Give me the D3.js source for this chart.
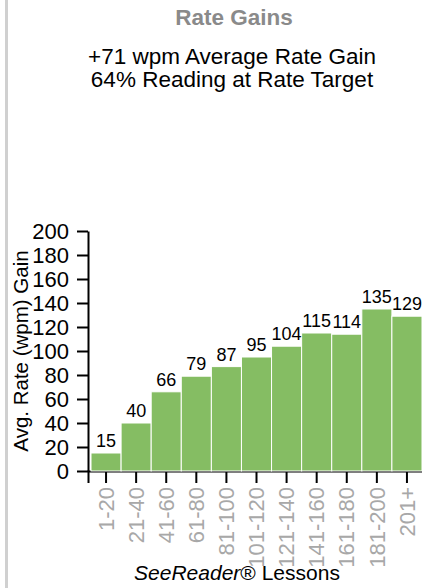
<!DOCTYPE html>
<html>
<head>
<meta charset="utf-8">
<script src="https://cdn.jsdelivr.net/npm/d3@7"></script>
<style>
	body { margin: 0; background: #fff; font-family: "Liberation Sans", Arial, sans-serif; }
	.axis path, .axis line { stroke: #000; stroke-width: 2; }
</style>
</head>
<body>
<script>
// 表示データ
var lessons = ["1-20", "21-40", "41-60", "61-80", "81-100", "101-120", "121-140", "141-160", "161-180", "181-200", "201+"];
var gains   = [15, 40, 66, 79, 87, 95, 104, 115, 114, 135, 129];
var yTicks  = [0, 20, 40, 60, 80, 100, 120, 140, 160, 180, 200];
var title     = "Rate Gains";
var subtitles = ["+71 wpm Average Rate Gain", "64% Reading at Rate Target"];

var W = 422, H = 588;
var svg = d3.select("body").append("svg")
	.attr("width", W)
	.attr("height", H);

// 左端の灰色の線
svg.append("rect")
	.attr("x", 5).attr("y", 0)
	.attr("width", 3).attr("height", H)
	.attr("fill", "#d0d0d0");

// タイトル
svg.append("text")
	.attr("x", 234).attr("y", 25)
	.attr("text-anchor", "middle")
	.style("font-size", "22.5px")
	.style("font-weight", "bold")
	.attr("fill", "#8a8a8a")
	.text(title);
subtitles.forEach(function(s, i){
	svg.append("text")
		.attr("x", 232).attr("y", 64 + i * 23)
		.attr("text-anchor", "middle")
		.style("font-size", "22.5px")
		.attr("fill", "#000")
		.text(s);
});

// スケール
var xScale = d3.scaleBand()
	.domain(lessons)
	.range([88, 425])
	.paddingOuter(0.1)
	.paddingInner(0);
var yScale = d3.scaleLinear()
	.domain([0, 200])
	.range([471, 231]);

// X軸 (棒の下に描画)
var xAxis = svg.append("g")
	.attr("class", "axis")
	.attr("transform", "translate(0,471)")
	.call(d3.axisBottom(xScale).tickSize(12).tickPadding(6));
xAxis.selectAll("text")
	.attr("transform", "rotate(-90)")
	.attr("text-anchor", "end")
	.attr("x", -16)
	.attr("y", 0)
	.attr("dy", "0.35em")
	.attr("fill", "#a8a8a8")
	.style("font-size", "22px")
	.style("font-family", "Liberation Sans, Arial, sans-serif");

// 棒
svg.append("g").selectAll("rect")
	.data(gains)
	.join("rect")
	.attr("x", function(d, i){ return xScale(lessons[i]); })
	.attr("y", function(d){ return yScale(d); })
	.attr("width", xScale.bandwidth())
	.attr("height", function(d){ return yScale(0) - yScale(d); })
	.attr("fill", "#85bd63")
	.attr("stroke", "#fff")
	.attr("stroke-width", 1);

// 値ラベル
svg.append("g").selectAll("text")
	.data(gains)
	.join("text")
	.attr("x", function(d, i){ return xScale(lessons[i]) + xScale.bandwidth() / 2; })
	.attr("y", function(d){ return yScale(d) - 6; })
	.attr("text-anchor", "middle")
	.style("font-size", "18px")
	.attr("fill", "#000")
	.text(function(d){ return d; });

// Y軸
var yAxis = svg.append("g")
	.attr("class", "axis")
	.attr("transform", "translate(88,0)")
	.call(d3.axisLeft(yScale).tickValues(yTicks).tickSize(11).tickSizeOuter(0).tickPadding(8));
yAxis.selectAll("text")
	.attr("fill", "#000")
	.style("font-size", "22px")
	.style("font-family", "Liberation Sans, Arial, sans-serif");

// 軸タイトル
svg.append("text")
	.attr("transform", "translate(28,351) rotate(-90)")
	.attr("text-anchor", "middle")
	.style("font-size", "20.5px")
	.text("Avg. Rate (wpm) Gain");

var xt = svg.append("text")
	.attr("x", 237).attr("y", 580)
	.attr("text-anchor", "middle")
	.style("font-size", "21px");
xt.append("tspan").style("font-style", "italic").text("SeeReader");
xt.append("tspan").text("®");
xt.append("tspan").text(" Lessons");
</script>
</body>
</html>
